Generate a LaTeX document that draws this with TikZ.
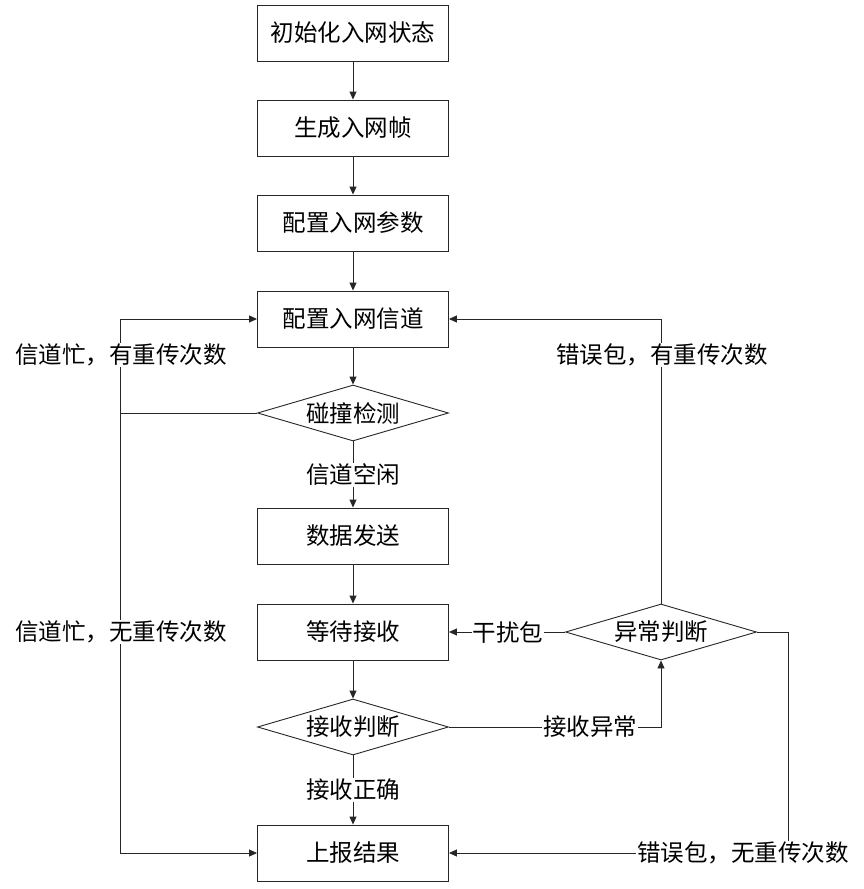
\documentclass[tikz,border=0pt]{standalone}
\usepackage{fontspec}
\setmainfont{Noto Sans CJK SC}
\usetikzlibrary{shapes.geometric,arrows.meta}
\begin{document}
\begin{tikzpicture}[x=1pt,y=-1pt,
  font=\fontsize{23.5}{28}\selectfont,
  box/.style={draw=black!85,line width=0.9pt,minimum width=191pt,minimum height=56pt,inner sep=0pt,fill=white},
  dia/.style={draw=black!85,line width=0.9pt,diamond,aspect=3.4,minimum width=191pt,minimum height=56pt,inner sep=0pt,fill=white},
  lbl/.style={fill=white,inner sep=1pt},
  conn/.style={draw=black!85,line width=0.9pt},
  arr/.style={conn,-{Triangle[length=8pt,width=7pt]}}]
\useasboundingbox (0,0) rectangle (863,889);
\node[box] (b1) at (353,33) {初始化入网状态};
\node[box] (b2) at (353,128) {生成入网帧};
\node[box] (b3) at (353,223) {配置入网参数};
\node[box] (b4) at (353,319) {配置入网信道};
\node[dia] (d1) at (353,413) {碰撞检测};
\node[box] (b5) at (353,536) {数据发送};
\node[box] (b6) at (353,632) {等待接收};
\node[dia] (d2) at (353,727) {接收判断};
\node[box] (b7) at (353,853) {上报结果};
\node[dia] (d3) at (661,632) {异常判断};
\coordinate (lt) at (120,319);
\coordinate (lm) at (120,413);
\coordinate (lb) at (120,853);
\coordinate (rt) at (661,319);
\coordinate (rr) at (788,632);
\coordinate (rb) at (788,853);
\coordinate (ra) at (661,727);
\draw[arr] (b1) -- (b2);
\draw[arr] (b2) -- (b3);
\draw[arr] (b3) -- (b4);
\draw[arr] (b4) -- (d1);
\draw[arr] (d1) -- (b5);
\draw[arr] (b5) -- (b6);
\draw[arr] (b6) -- (d2);
\draw[arr] (d2) -- (b7);
\draw[conn] (d1.west) -- (lm);
\draw[arr] (lm) -- (lt) -- (b4.west);
\draw[arr] (lm) -- (lb) -- (b7.west);
\draw[arr] (d3.north) -- (rt) -- (b4.east);
\draw[arr] (d3.west) -- (b6.east);
\draw[arr] (d2.east) -- (ra) -- (d3.south);
\draw[arr] (d3.east) -- (rr) -- (rb) -- (b7.east);
\node[lbl] (l1) at (353,475) {信道空闲};
\node[lbl] (l2) at (353,790) {接收正确};
\node[lbl] (l3) at (121,355) {信道忙，有重传次数};
\node[lbl] (l4) at (121,632) {信道忙，无重传次数};
\node[lbl] (l5) at (662,355) {错误包，有重传次数};
\node[lbl] (l6) at (508,632) {干扰包};
\node[lbl] (l7) at (590,727) {接收异常};
\node[lbl] (l8) at (743,853) {错误包，无重传次数};
\end{tikzpicture}
\end{document}
